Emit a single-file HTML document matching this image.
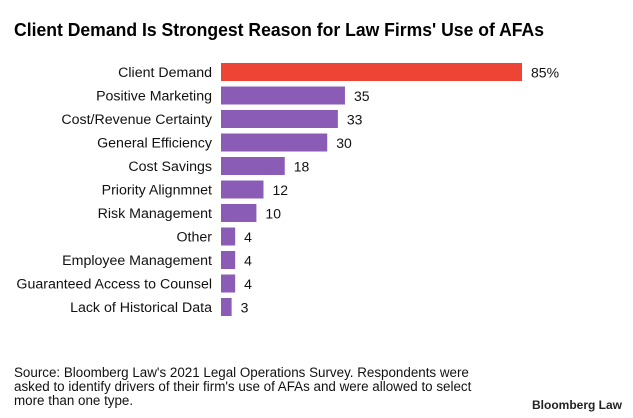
<!DOCTYPE html>
<html><head><meta charset="utf-8"><style>
body{margin:0;background:#fff;font-family:"Liberation Sans",Arial,sans-serif;}
#wrap{position:relative;width:633px;height:418px;overflow:hidden;}
</style></head><body>
<div id="wrap">
<svg id="chart" width="633" height="418">
<text x="14" y="36" font-size="18" font-weight="bold" fill="#000" textLength="530" lengthAdjust="spacingAndGlyphs">Client Demand Is Strongest Reason for Law Firms' Use of AFAs</text>
<g id="bars"></g>
<text x="14" y="377" font-size="13.4" fill="#111">Source: Bloomberg Law's 2021 Legal Operations Survey. Respondents were</text>
<text x="14" y="391" font-size="13.4" fill="#111">asked to identify drivers of their firm's use of AFAs and were allowed to select</text>
<text x="14" y="405" font-size="13.4" fill="#111">more than one type.</text>
<text x="622" y="409" font-size="12" font-weight="bold" fill="#222" text-anchor="end">Bloomberg Law</text>
</svg>
</div>
<script>
const categories=["Client Demand","Positive Marketing","Cost/Revenue Certainty","General Efficiency","Cost Savings","Priority Alignmnet","Risk Management","Other","Employee Management","Guaranteed Access to Counsel","Lack of Historical Data"];
const values=[85,35,33,30,18,12,10,4,4,4,3];
const valueLabels=["85%","35","33","30","18","12","10","4","4","4","3"];
const NS="http://www.w3.org/2000/svg";
const x0=221, pxPerUnit=301/85, top0=63, step=23.5, barH=18;
const xScale=v=>v*pxPerUnit;
const yScale=i=>top0+i*step;
const g=document.getElementById('bars');
categories.forEach((c,i)=>{
  const y=yScale(i);
  const lab=document.createElementNS(NS,'text');
  lab.setAttribute('x',212);lab.setAttribute('y',y+barH/2+5);
  lab.setAttribute('text-anchor','end');lab.setAttribute('font-size','14.2');lab.setAttribute('fill','#111');
  lab.textContent=c;
  
  
  g.appendChild(lab);
  const r=document.createElementNS(NS,'rect');
  r.setAttribute('x',x0);r.setAttribute('y',y);
  r.setAttribute('width',xScale(values[i]));r.setAttribute('height',barH);
  r.setAttribute('fill',i===0?'#ee4436':'#8a5cb5');
  
  
  g.appendChild(r);
  const v=document.createElementNS(NS,'text');
  v.setAttribute('x',x0+xScale(values[i])+9);v.setAttribute('y',y+barH/2+5.5);
  v.setAttribute('font-size','14');v.setAttribute('fill','#111');
  v.textContent=valueLabels[i];
  
  
  g.appendChild(v);
});
</script>
</body></html>
